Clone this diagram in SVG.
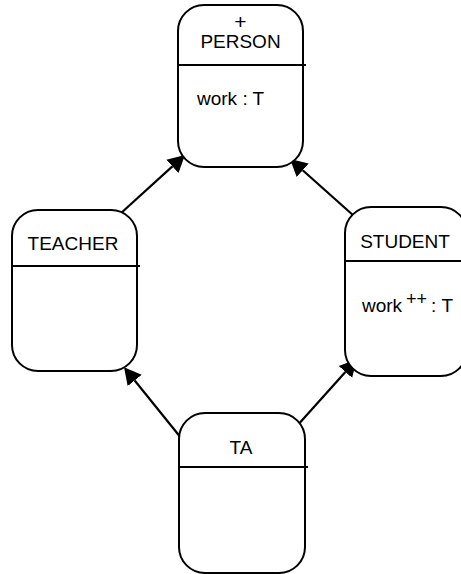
<svg xmlns="http://www.w3.org/2000/svg" width="461" height="574" viewBox="0 0 461 574">
  <style>
    .box { fill: #ffffff; stroke: #000000; stroke-width: 2; }
    .div { stroke: #000000; stroke-width: 2; fill: none; }
    .lbl { font-family: "Liberation Sans", Arial, Helvetica, sans-serif; font-size: 19px; fill: #000000; }
    .mid { text-anchor: middle; }
    .edge { stroke: #000000; stroke-width: 2.2; fill: none; marker-end: url(#head); }
  </style>
  <defs>
    <marker id="head" markerUnits="userSpaceOnUse" markerWidth="20" markerHeight="20" viewBox="0 -10 20 20" refX="0" refY="0" orient="auto">
      <path d="M0,-9 L17,0 L0,9 Z" fill="#000000"/>
    </marker>
  </defs>

  <rect width="461" height="574" fill="#ffffff"/>

  <!-- generalisation arrows -->
  <g id="connectors">
    <line class="edge" x1="120" y1="214" x2="172.4" y2="166.4"/>
    <line class="edge" x1="354" y1="216" x2="302.7" y2="170.3"/>
    <line class="edge" x1="182.7" y1="440" x2="134.7" y2="380.5"/>
    <line class="edge" x1="293.3" y1="430" x2="345.4" y2="371.9"/>
  </g>

  <g id="person">
    <rect class="box" x="178" y="5" width="125" height="162" rx="26" ry="26"/>
    <line class="div" x1="178" y1="65" x2="306" y2="65"/>
    <text class="lbl mid" x="240.5" y="29" style="font-size:21px">+</text>
    <text class="lbl mid" x="240.5" y="48">PERSON</text>
    <text class="lbl" x="197" y="105">work :  T</text>
  </g>

  <g id="teacher">
    <rect class="box" x="12" y="210" width="125" height="161" rx="26" ry="26"/>
    <line class="div" x1="12" y1="266" x2="140" y2="266"/>
    <text class="lbl mid" x="73" y="250">TEACHER</text>
  </g>

  <g id="student">
    <rect class="box" x="345" y="207" width="122" height="169" rx="26" ry="26"/>
    <line class="div" x1="345" y1="261" x2="461" y2="261"/>
    <text class="lbl mid" x="405" y="248">STUDENT</text>
    <text class="lbl" x="362" y="312">work</text>
    <text class="lbl" x="406" y="305" style="font-size:18px">++</text>
    <text class="lbl" x="431" y="312">:</text>
    <text class="lbl" x="441.5" y="312">T</text>
  </g>

  <g id="ta">
    <rect class="box" x="179" y="413" width="126" height="160" rx="26" ry="26"/>
    <line class="div" x1="179" y1="467" x2="308" y2="467"/>
    <text class="lbl mid" x="241" y="454">TA</text>
  </g>
</svg>
